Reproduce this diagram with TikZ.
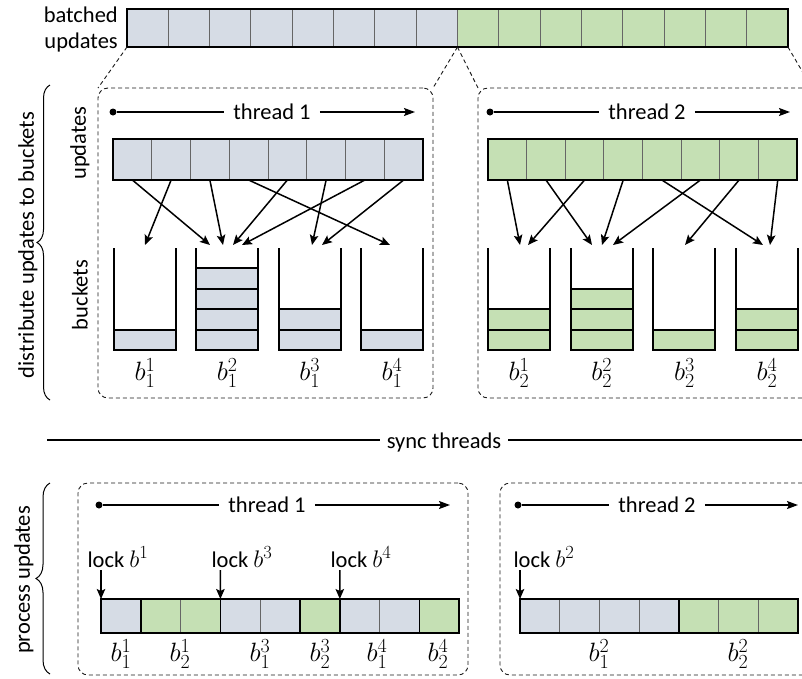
\RequirePackage{fix-cm}
\documentclass[tikz,border=0pt]{standalone}
\usepackage{fontspec}
\setmainfont{Carlito}
\usetikzlibrary{arrows.meta,decorations.pathreplacing,calc}
\definecolor{cblue}{RGB}{214,220,229}
\definecolor{cgreen}{RGB}{197,224,180}
% larger scripts for the bucket labels
\DeclareMathSizes{26.5}{26.5}{20}{15}
\DeclareMathSizes{22.5}{24}{18.5}{14}

% one bucket: left x, number of filled slots, fill colour, node name, label
\newcommand\drawbucket[5]{%
  \foreach \k in {1,...,#2}
    \draw[bucketline, fill=#3] (#1,{350-\k*20.5}) rectangle ++(62,20.5);
  \draw[bucketline] (#1,248) -- (#1,350) -- ({#1+62},350) -- ({#1+62},248);
  \node[lbl] (#4) at ({#1+31},373) {$#5$};
}

\begin{document}
\begin{tikzpicture}[x=1pt,y=-1pt,
  txt/.style={font=\fontsize{22.5}{26}\selectfont, inner sep=0pt},
  lbl/.style={font=\fontsize{26.5}{30}\selectfont, inner sep=0pt},
  cell/.style={draw=black!60, line width=1pt, inner sep=0pt, outer sep=0pt, anchor=north west},
  outline/.style={draw=black, line width=2pt},
  divider/.style={draw=black, line width=1.6pt},
  bucketline/.style={draw=black, line width=2pt, line join=miter},
  dashbox/.style={draw=black!90, line width=0.9pt, dash pattern=on 4pt off 3pt,
    rounded corners=10pt, inner sep=0pt, outer sep=0pt, anchor=north west},
  zoomline/.style={draw=black!90, line width=0.9pt, dash pattern=on 4pt off 3pt},
  flow/.style={line width=1.5pt, -{Stealth[length=10pt,width=8.5pt,inset=2pt]}},
  timeline/.style={line width=1.5pt},
  startdot/.style={circle, fill=black, inner sep=0pt, minimum size=7pt},
  brace/.style={decorate, line width=1pt},
]
\useasboundingbox (0,0) rectangle (802,678);

% ---------- batched updates ----------
\node[txt, align=right, anchor=east] (batch) at (118,29) {batched\\updates};
\foreach \i in {0,...,7}
  \node[cell, fill=cblue, minimum width=41.31pt, minimum height=38pt] (bt\i) at ({127+\i*41.31},9) {};
\foreach \i in {8,...,15}
  \node[cell, fill=cgreen, minimum width=41.31pt, minimum height=38pt] (bt\i) at ({127+\i*41.31},9) {};
\draw[outline] (bt0.north west) rectangle (bt15.south east);

% ---------- per-thread frames ----------
\node[dashbox, minimum width=335pt, minimum height=310pt] (dA) at (98,88) {};
\node[dashbox, minimum width=334pt, minimum height=310pt] (dB) at (478,88) {};
\node[dashbox, minimum width=390pt, minimum height=192pt] (pA) at (78,483) {};
\node[dashbox, minimum width=312pt, minimum height=192pt] (pB) at (500,483) {};

\draw[zoomline] (bt0.south west) -- (dA.north west);
\draw[zoomline] (bt7.south east) -- (dA.north east);
\draw[zoomline] (bt8.south west) -- (dB.north west);
\draw[zoomline] (bt15.south east) -- (dB.north east);

% ---------- side labels and braces ----------
\node[txt, rotate=90] (ldist) at (28,245) {distribute updates to buckets};
\node[txt, rotate=90] (lupd) at (80,143) {updates};
\node[txt, rotate=90] (lbkt) at (80,295) {buckets};
\node[txt, rotate=90] (lproc) at (24,580) {process updates};
\coordinate (brAbot) at (50,400);
\coordinate (brAtop) at (50,85);
\coordinate (brBbot) at (50,674);
\coordinate (brBtop) at (50,483);
\draw[brace, decoration={brace, amplitude=13pt}] (brAbot) -- (brAtop);
\draw[brace, decoration={brace, amplitude=14pt}] (brBbot) -- (brBtop);

% ---------- thread timelines ----------
\node[startdot] (sA) at (113,112) {};
\node[txt, inner xsep=9pt] (tA) at (272,112) {thread 1};
\coordinate (eA) at (415,112);
\draw[timeline] (sA) -- (tA.west);
\draw[timeline, -{Stealth[length=11pt,width=8pt,inset=2pt]}] (tA.east) -- (eA);

\node[startdot] (sB) at (490,112) {};
\node[txt, inner xsep=9pt] (tB) at (647,112) {thread 2};
\coordinate (eB) at (790,112);
\draw[timeline] (sB) -- (tB.west);
\draw[timeline, -{Stealth[length=11pt,width=8pt,inset=2pt]}] (tB.east) -- (eB);

\node[startdot] (sC) at (99,505) {};
\node[txt, inner xsep=9pt] (tC) at (267,505) {thread 1};
\coordinate (eC) at (450,505);
\draw[timeline] (sC) -- (tC.west);
\draw[timeline, -{Stealth[length=11pt,width=8pt,inset=2pt]}] (tC.east) -- (eC);

\node[startdot] (sD) at (518,505) {};
\node[txt, inner xsep=9pt] (tD) at (657,505) {thread 2};
\coordinate (eD) at (798,505);
\draw[timeline] (sD) -- (tD.west);
\draw[timeline, -{Stealth[length=11pt,width=8pt,inset=2pt]}] (tD.east) -- (eD);

% ---------- per-thread update arrays ----------
\foreach \i in {1,...,8}
  \node[cell, fill=cblue, minimum width=38.75pt, minimum height=41pt] (uA\i) at ({113+(\i-1)*38.75},139) {};
\draw[outline] (uA1.north west) rectangle (uA8.south east);
\foreach \i in {1,...,8}
  \node[cell, fill=cgreen, minimum width=38.63pt, minimum height=41pt] (uB\i) at ({488+(\i-1)*38.63},139) {};
\draw[outline] (uB1.north west) rectangle (uB8.south east);

% ---------- buckets ----------
\drawbucket{114}{1}{cblue}{kA1}{b_1^1}
\drawbucket{196.3}{4}{cblue}{kA2}{b_1^2}
\drawbucket{278.6}{2}{cblue}{kA3}{b_1^3}
\drawbucket{360.9}{1}{cblue}{kA4}{b_1^4}
\drawbucket{488}{2}{cgreen}{kB1}{b_2^1}
\drawbucket{570.7}{3}{cgreen}{kB2}{b_2^2}
\drawbucket{653.4}{1}{cgreen}{kB3}{b_2^3}
\drawbucket{736}{2}{cgreen}{kB4}{b_2^4}

% ---------- scatter arrows ----------
\foreach \c/\x in {1/210, 2/145, 3/223, 4/390, 5/233, 6/312, 7/242, 8/322} {
  \coordinate (hA\c) at (\x,245);
  \draw[flow] (uA\c.south) -- (hA\c);
}
\foreach \c/\x in {1/520, 2/592, 3/528, 4/602, 5/763, 6/613, 7/685, 8/770} {
  \coordinate (hB\c) at (\x,245);
  \draw[flow] (uB\c.south) -- (hB\c);
}

% ---------- sync ----------
\node[txt, anchor=base, inner xsep=7pt] (sync) at (444,448) {sync threads};
\coordinate (syL) at (47,440);
\coordinate (syR) at (802,440);
\draw[line width=2pt] (syL) -- (syL -| sync.west);
\draw[line width=2pt] (syR -| sync.east) -- (syR);

% ---------- processing, thread 1 ----------
\foreach \i/\cc in {1/cblue,2/cgreen,3/cgreen,4/cblue,5/cblue,6/cgreen,7/cblue,8/cblue,9/cgreen}
  \node[cell, fill=\cc, minimum width=39.8pt, minimum height=34pt] (qA\i) at ({101+(\i-1)*39.8},599) {};
\foreach \i in {1,3,5,6,8}
  \draw[divider] (qA\i.north east) -- (qA\i.south east);
\draw[outline] (qA1.north west) rectangle (qA9.south east);

\node[txt] (lk1) at (118,557) {lock $b^1$};
\node[txt] (lk3) at (242,557) {lock $b^3$};
\node[txt] (lk4) at (361,557) {lock $b^4$};
\coordinate (la1) at (101,570);
\coordinate (la3) at (220.4,570);
\coordinate (la4) at (339.8,570);
\draw[flow] (la1) -- (qA1.north west);
\draw[flow] (la3) -- (qA4.north west);
\draw[flow] (la4) -- (qA7.north west);

\node[lbl] (mA1) at (121,654) {$b_1^1$};
\node[lbl] (mA2) at (180,654) {$b_2^1$};
\node[lbl] (mA3) at (260,654) {$b_1^3$};
\node[lbl] (mA4) at (320,654) {$b_2^3$};
\node[lbl] (mA5) at (377,654) {$b_1^4$};
\node[lbl] (mA6) at (438,654) {$b_2^4$};

% ---------- processing, thread 2 ----------
\foreach \i/\cc in {1/cblue,2/cblue,3/cblue,4/cblue,5/cgreen,6/cgreen,7/cgreen}
  \node[cell, fill=\cc, minimum width=39.7pt, minimum height=34pt] (qB\i) at ({520+(\i-1)*39.7},599) {};
\draw[divider] (qB4.north east) -- (qB4.south east);
\draw[outline] (qB1.north west) rectangle (qB7.south east);

\node[txt] (lk2) at (544,557) {lock $b^2$};
\coordinate (la2) at (520,570);
\draw[flow] (la2) -- (qB1.north west);

\node[lbl] (mB1) at (599,654) {$b_1^2$};
\node[lbl] (mB2) at (738,654) {$b_2^2$};

\end{tikzpicture}
\end{document}
